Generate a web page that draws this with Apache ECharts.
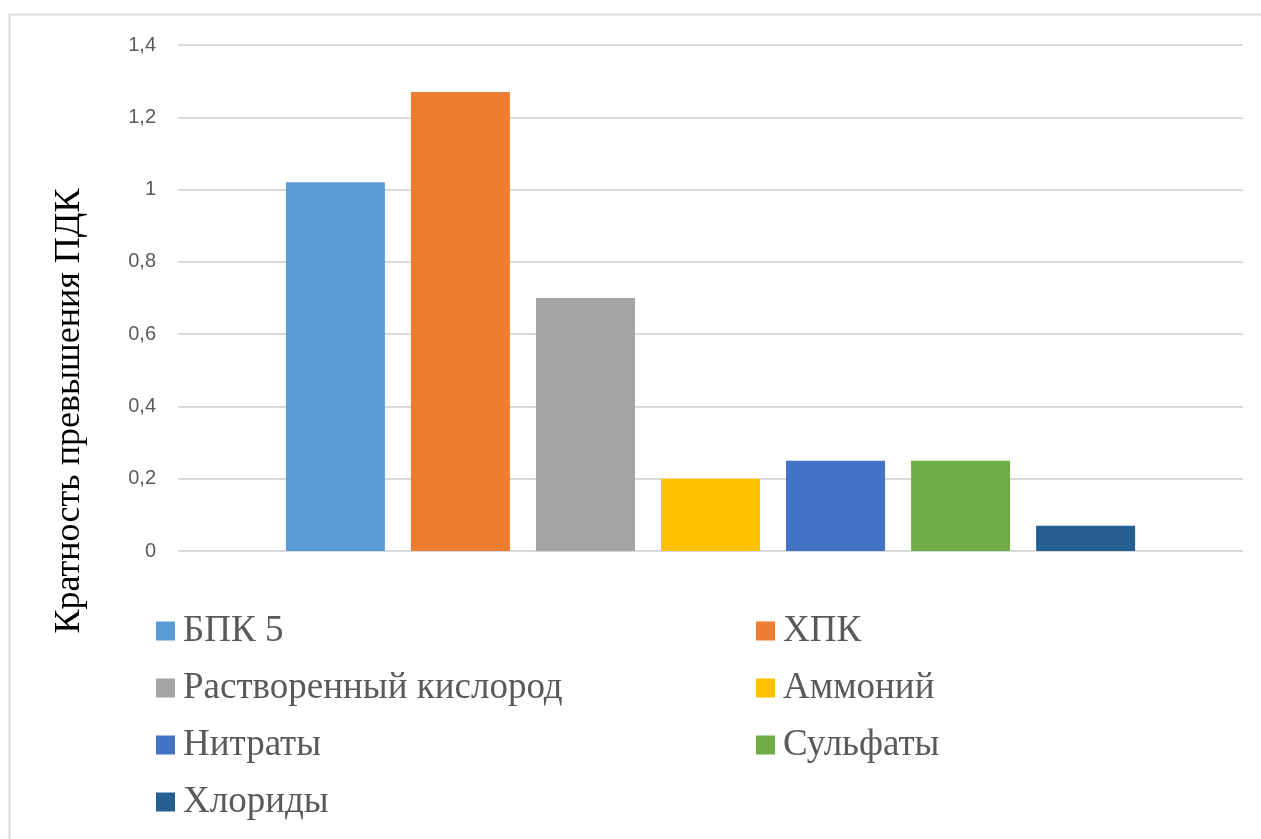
<!DOCTYPE html>
<html>
<head>
<meta charset="utf-8">
<script src="https://cdn.jsdelivr.net/npm/echarts@6/dist/echarts.min.js"></script>
<style>
  html, body { margin: 0; padding: 0; background: #fff; }
  #chart { width: 1261px; height: 839px; }
</style>
</head>
<body>
<div id="chart"></div>
<script>
// Pollutant indicators and their multiples of the maximum permissible concentration
const seriesNames = ['БПК 5', 'ХПК', 'Растворенный кислород', 'Аммоний', 'Нитраты', 'Сульфаты', 'Хлориды'];
const seriesValues = [1.02, 1.27, 0.70, 0.20, 0.25, 0.25, 0.07];
const seriesColors = ['#5b9bd5', '#ed7d31', '#a5a5a5', '#ffc000', '#4472c4', '#70ad47', '#255e91'];
const categories = [''];
const yTickMin = 0, yTickMax = 1.4, yTickStep = 0.2;
const yAxisTitle = 'Кратность превышения ПДК';

const serif = '"Liberation Serif", "Times New Roman", serif';
const chart = echarts.init(document.getElementById('chart'));

const series = seriesNames.map((name, i) => ({
  name: name,
  type: 'bar',
  data: [seriesValues[i]],
  barWidth: 99,
  barGap: '26.3%',
  itemStyle: { color: seriesColors[i] }
}));

const legendBase = {
  orient: 'vertical',
  top: 611,
  itemWidth: 19,
  itemHeight: 19,
  itemGap: 17,
  icon: 'rect',
  selectedMode: false,
  textStyle: { fontFamily: serif, fontSize: 37, color: '#595959', lineHeight: 40, padding: [0, 0, 0, 3] },
  padding: 0
};

chart.setOption({
  animation: false,
  backgroundColor: '#fff',
  graphic: [
    {
      type: 'rect',
      shape: { x: 9.5, y: 14.5, width: 1262, height: 840 },
      style: { fill: 'none', stroke: '#d9d9d9', lineWidth: 2 },
      silent: true
    },
    {
      type: 'text',
      x: 70,
      y: 411,
      rotation: Math.PI / 2,
      style: {
        text: yAxisTitle,
        fontFamily: serif,
        fontSize: 36,
        fill: '#000',
        align: 'center',
        verticalAlign: 'middle'
      },
      silent: true
    }
  ],
  grid: { left: 178, right: 18, top: 45, bottom: 288, containLabel: false },
  xAxis: {
    type: 'category',
    data: categories,
    axisLine: { show: false },
    axisTick: { show: false },
    axisLabel: { show: false }
  },
  yAxis: {
    type: 'value',
    min: yTickMin,
    max: yTickMax,
    interval: yTickStep,
    axisLine: { show: false },
    axisTick: { show: false },
    axisLabel: {
      margin: 22,
      fontFamily: '"Liberation Sans", Arial, sans-serif',
      fontSize: 20,
      color: '#595959',
      formatter: v => String(Math.round(v * 10) / 10).replace('.', ',')
    },
    splitLine: { lineStyle: { color: '#d9d9d9', width: 2 } }
  },
  legend: [
    Object.assign({}, legendBase, { left: 156, data: [seriesNames[0], seriesNames[2], seriesNames[4], seriesNames[6]] }),
    Object.assign({}, legendBase, { left: 756, data: [seriesNames[1], seriesNames[3], seriesNames[5]] })
  ],
  series: series
});
</script>
</body>
</html>
